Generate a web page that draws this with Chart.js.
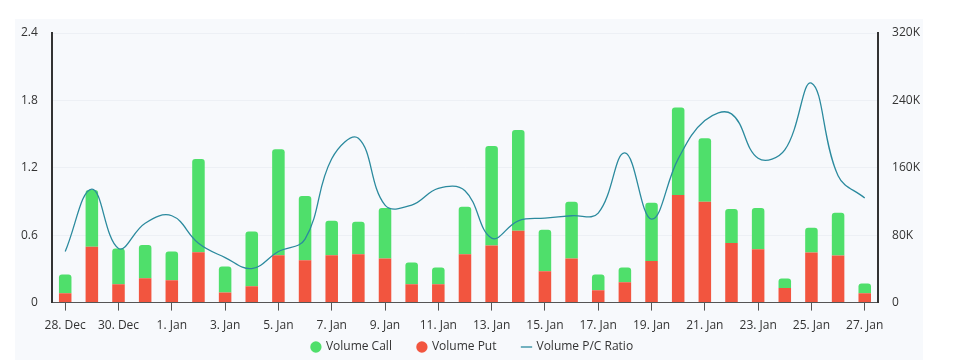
<!DOCTYPE html>
<html>
<head>
<meta charset="utf-8">
<script src="https://cdn.jsdelivr.net/npm/chart.js@4/dist/chart.umd.min.js"></script>
<style>
html,body{margin:0;padding:0;background:#fff;}
#wrap{width:967px;height:360px;position:relative;}
</style>
</head>
<body>
<div id="wrap"><canvas id="c" width="967" height="360"></canvas></div>
<script>
const categories = ["28. Dec","29. Dec","30. Dec","31. Dec","1. Jan","2. Jan","3. Jan","4. Jan","5. Jan","6. Jan","7. Jan","8. Jan","9. Jan","10. Jan","11. Jan","12. Jan","13. Jan","14. Jan","15. Jan","16. Jan","17. Jan","18. Jan","19. Jan","20. Jan","21. Jan","22. Jan","23. Jan","24. Jan","25. Jan","26. Jan","27. Jan"];
const volumeTotal = [33300,133600,64300,68500,60700,170500,42800,84500,182000,126500,97100,95900,112200,47600,41700,113800,186000,205000,86400,119700,33300,41700,118500,231600,195200,111000,112200,28600,88800,106600,22600];
const volumePut = [11000,66200,21800,28900,26500,59900,11900,19400,56300,50300,56300,57500,52400,21800,21800,57500,67800,85200,37200,52400,14600,24200,49500,127700,119700,70600,63400,17400,59500,55900,11100];
const volumeCall = volumeTotal.map((t,i)=>t-volumePut[i]);
const pcRatio = [0.455,1.011,0.482,0.707,0.773,0.529,0.401,0.303,0.455,0.565,1.28,1.463,0.868,0.868,1.017,0.996,0.574,0.728,0.752,0.773,0.797,1.332,0.743,1.279,1.62,1.68,1.285,1.359,1.954,1.13,0.931];
const leftTicks = [0,0.6,1.2,1.8,2.4];
const rightTicks = [0,80000,160000,240000,320000];

const bgPlugin = {
  id:'bg',
  beforeDraw(chart){
    const ctx = chart.ctx;
    ctx.save();
    ctx.fillStyle = '#f7f9fc';
    ctx.fillRect(15,19,908,341);
    ctx.restore();
  }
};

const LEGEND_H = 19;
const LEGEND_DX = 2;
const LEGEND_DY = -26;
const legendFix = {
  id:'legendFix',
  beforeUpdate(chart){
    const lg = chart.legend;
    if (lg && !lg._patched){
      const of = lg.fit.bind(lg);
      lg.fit = function(){ of(); this.height = LEGEND_H; };
      lg.draw = function(){
        if (!this.options.display) return;
        const ctx = chart.ctx;
        ctx.save(); ctx.translate(LEGEND_DX, LEGEND_DY); this._draw(); ctx.restore();
      };
      lg._patched = true;
    }
  }
};

Chart.defaults.font.family = "'Open Sans', sans-serif";
Chart.defaults.font.size = 12;
Chart.defaults.color = '#333';

new Chart(document.getElementById('c'), {
  data: {
    labels: categories,
    datasets: [
      {type:'bar', label:'Volume Put', data: volumePut, backgroundColor:'#f2553f', yAxisID:'y2', stack:'v', barPercentage:0.47, categoryPercentage:1, borderRadius:{topLeft:0,topRight:0,bottomLeft:0,bottomRight:0}, pointStyle:'circle', order:2},
      {type:'bar', label:'Volume Call', data: volumeCall, backgroundColor:'#4fdf6b', yAxisID:'y2', stack:'v', barPercentage:0.47, categoryPercentage:1, borderRadius:{topLeft:3,topRight:3,bottomLeft:0,bottomRight:0}, borderSkipped:false, pointStyle:'circle', order:2},
      {type:'line', label:'Volume P/C Ratio', data: pcRatio, borderColor:'#2b8a9e', backgroundColor:'#2b8a9e', borderWidth:1.3, pointRadius:0, tension:0.4, yAxisID:'y', pointStyle:'line', order:1}
    ]
  },
  options: {
    responsive:false,
    animation:false,
    layout:{padding:{left:7,right:33,top:33,bottom:0}},
    plugins:{
      legend:{
        position:'bottom',
        labels:{
          usePointStyle:true, boxWidth:8, boxHeight:8, padding:26, color:'#333',
          font:{size:12},
          sort:(a,b)=>{const o={'Volume Call':0,'Volume Put':1,'Volume P/C Ratio':2};return o[a.text]-o[b.text];}
        }
      },
      tooltip:{enabled:false}
    },
    scales:{
      x:{
        offset:true,
        grid:{display:true, drawOnChartArea:false, drawTicks:true, tickLength:8, color:'#555', offset:false},
        border:{display:true,color:'#555',width:1},
        ticks:{autoSkip:false, maxRotation:0, padding:8, color:'#333',
          callback:function(v,i){return i%2===0 ? categories[i] : null;}}
      },
      y:{
        position:'left', min:0, max:2.4,
        afterBuildTicks:(s)=>{s.ticks = leftTicks.map(v=>({value:v}));},
        grid:{color:'#edf0f5', drawTicks:false},
        border:{display:true,color:'#333',width:2},
        ticks:{padding:14, color:'#333', callback:(v)=>String(v)}
      },
      y2:{
        position:'right', min:0, max:320000,
        afterBuildTicks:(s)=>{s.ticks = rightTicks.map(v=>({value:v}));},
        grid:{drawOnChartArea:false, drawTicks:false},
        border:{display:true,color:'#333',width:2},
        ticks:{padding:14, color:'#333', callback:(v)=> v===0 ? '0' : (v/1000)+'K'}
      }
    }
  },
  plugins:[bgPlugin, legendFix]
});
</script>
</body>
</html>
